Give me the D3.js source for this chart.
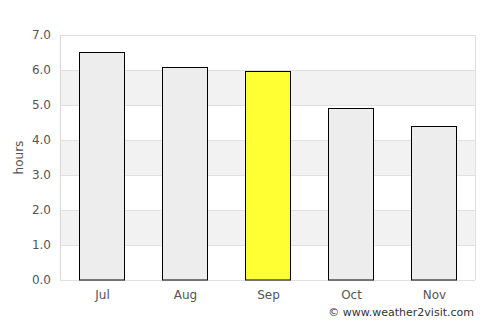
<!DOCTYPE html>
<html>
<head>
<meta charset="utf-8">
<script src="https://cdn.jsdelivr.net/npm/d3@7"></script>
<style>
  body { margin: 0; background: #fff; }
  text { font-family: "DejaVu Sans", sans-serif; }
</style>
</head>
<body>
<div id="chart"></div>
<script>
// data
var months = ["Jul", "Aug", "Sep", "Oct", "Nov"]
var hours = [6.5, 6.1, 5.97, 4.9, 4.4]
var highlight = "Sep"
var yTicks = [0, 1, 2, 3, 4, 5, 6, 7]

var W = 500, H = 325
var margin = {top: 35, right: 25, bottom: 45, left: 60}
var width = W - margin.left - margin.right,
    height = H - margin.top - margin.bottom

var svg = d3.select("#chart").append("svg")
    .attr("width", W)
    .attr("height", H)

var g = svg.append("g")
    .attr("transform", "translate(" + margin.left + "," + margin.top + ")")

var x = d3.scaleBand().domain(months).range([0, width]).paddingInner(0.46).paddingOuter(0.23)
var y = d3.scaleLinear().domain([0, 7]).range([height, 0])

// alternating bands
for (var i = 0; i < 7; i++) {
  g.append("rect")
    .attr("x", 0)
    .attr("y", y(i + 1))
    .attr("width", width)
    .attr("height", y(i) - y(i + 1))
    .style("fill", i % 2 == 1 ? "#f2f2f2" : "#ffffff")
}

// grid lines
g.selectAll(".grid").data(yTicks).enter().append("line")
  .attr("x1", 0).attr("x2", width)
  .attr("y1", function(d) { return y(d) + 0.5 })
  .attr("y2", function(d) { return y(d) + 0.5 })
  .style("stroke", "#e0e0e0")

// frame
g.append("line").attr("x1", width + 0.5).attr("x2", width + 0.5).attr("y1", 0).attr("y2", height)
  .style("stroke", "#e0e0e0")
g.append("line").attr("x1", 0.5).attr("x2", 0.5).attr("y1", 0).attr("y2", height)
  .style("stroke", "#d8d8d8")

// bars
g.selectAll(".bar").data(months).enter().append("rect")
  .attr("x", function(d) { return Math.round(x(d)) + 0.5 })
  .attr("y", function(d, i) { return Math.round(y(hours[i])) + 0.5 })
  .attr("width", Math.round(x.bandwidth()))
  .attr("height", function(d, i) { return height - Math.round(y(hours[i])) - 0.5 })
  .style("fill", function(d) { return d == highlight ? "#ffff33" : "#ededed" })
  .style("stroke", "#000")
  .style("stroke-width", 1)

// y tick labels
g.selectAll(".ytick").data(yTicks).enter().append("text")
  .attr("x", -9)
  .attr("y", function(d) { return y(d) })
  .attr("dy", "0.35em")
  .attr("text-anchor", "end")
  .style("font-size", "12px")
  .style("fill", "#555")
  .text(function(d) { return d3.format(".1f")(d) })

// x tick labels
g.selectAll(".xtick").data(months).enter().append("text")
  .attr("x", function(d) { return x(d) + x.bandwidth() / 2 + 1 })
  .attr("y", height + 19)
  .attr("text-anchor", "middle")
  .style("font-size", "12px")
  .style("fill", "#555")
  .text(function(d) { return d })

// axis title
svg.append("text")
  .attr("transform", "translate(23," + (margin.top + height / 2) + ") rotate(-90)")
  .attr("text-anchor", "middle")
  .style("font-size", "12px")
  .style("fill", "#555")
  .text("hours")

// credit
svg.append("text")
  .attr("x", 474)
  .attr("y", 316)
  .attr("text-anchor", "end")
  .style("font-size", "11px")
  .style("fill", "#333")
  .text("© www.weather2visit.com")
</script>
</body>
</html>
